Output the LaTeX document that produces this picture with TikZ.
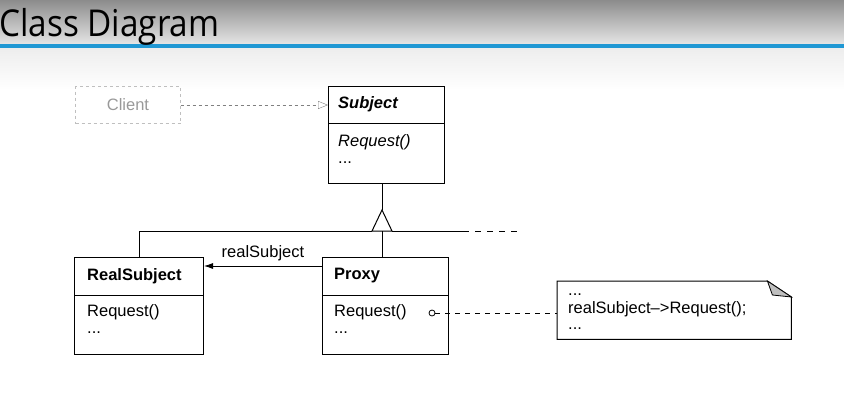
\documentclass[tikz,border=0pt]{standalone}
\usepackage{fontspec}
\setmainfont{Liberation Sans}
\newfontfamily\headfont[FakeStretch=0.9]{Open Sans}
\usetikzlibrary{arrows.meta}
\definecolor{bar}{RGB}{32,152,212}
\tikzset{
  cls/.style={draw,line width=1pt,minimum width=#1,minimum height=97pt,anchor=north west,inner sep=0pt},
  txt/.style={anchor=west,inner sep=0pt,font=\fontsize{16.5}{18}\selectfont}
}
\begin{document}
\begin{tikzpicture}[x=1pt,y=-1pt]
\useasboundingbox (0,0) rectangle (844,408);
% header
\shade[top color=black!45,bottom color=black!10] (0,0) rectangle (844,44);
\shade[top color=black!7,bottom color=white] (0,48) rectangle (844,90);
\fill[bar] (0,44) rectangle (844,48);
\node[anchor=base west,inner sep=0pt,font=\headfont\fontsize{37}{40}\selectfont] (T) at (-1,36) {Class Diagram};
% classes
\node[draw=black!25,dashed,minimum width=105pt,minimum height=37pt,inner sep=0pt,
  text=black!40,font=\fontsize{16.5}{18}\selectfont] (C) at (128,105) {Client};
\node[cls=116pt] (S) at (328,86) {};
\node[cls=129pt] (R) at (74,257) {};
\node[cls=126pt] (P) at (322,257) {};
\draw[line width=.8pt] (S.west |- 0,123) -- (S.east |- 0,123);
\draw[line width=.8pt] (R.west |- 0,295) -- (R.east |- 0,295);
\draw[line width=.8pt] (P.west |- 0,295) -- (P.east |- 0,295);
\node[txt,font=\fontsize{16.5}{18}\selectfont\bfseries\itshape] (Sn) at (338,104) {Subject};
\node[txt,font=\fontsize{16.5}{18}\selectfont\itshape] (Sr) at (338,142) {Request()};
\node[txt] (Sd) at (338,163) {...};
\node[txt,font=\fontsize{16.5}{18}\selectfont\bfseries] (Rn) at (87,276) {RealSubject};
\node[txt] (Rr) at (87,312) {Request()};
\node[txt] (Rd) at (87,333) {...};
\node[txt,font=\fontsize{16.5}{18}\selectfont\bfseries] (Pn) at (334,276) {Proxy};
\node[txt] (Pr) at (334,312) {Request()};
\node[txt] (Pd) at (334,333) {...};
% note
\node[minimum width=234pt,minimum height=58pt,anchor=north west,inner sep=0pt] (N) at (557,281) {};
\draw[line width=1pt] (N.south west) -- (N.north west) -- ([xshift=-24pt]N.north east)
  -- ([yshift=-16pt]N.north east) -- (N.south east) -- cycle;
\draw[fill=black!25,line width=.8pt] ([xshift=-24pt]N.north east) -- ([xshift=-19pt,yshift=-14pt]N.north east)
  -- ([yshift=-16pt]N.north east) -- cycle;
\node[txt] (N1) at (568,295) {...};
\node[txt] (N2) at (568,309) {realSubject–>Request();};
\node[txt] (N3) at (568,329) {...};
% connectors
\draw[dashed,black!50,-{Triangle[open,length=10pt,width=8pt]}] (C) -- (S.west |- C);
\coordinate (top) at (382,210);
\coordinate (bl) at (372,231);
\coordinate (br) at (392,231);
\draw[line width=1pt] (S.south -| top) -- (top);
\draw[line width=1pt,fill=white] (top) -- (bl) -- (br) -- cycle;
\draw[line width=.8pt] (R.north |- bl) -- (bl);
\draw[line width=.8pt] (br) -- (463,231) coordinate (e);
\draw[line width=.8pt,dashed,dash pattern=on 6pt off 6pt] (e) -- (520,231);
\draw[line width=.8pt] (R.north |- bl) -- (R.north);
\draw[line width=1pt] (top |- bl) -- (P.north -| top);
\draw[line width=.8pt,-{Latex[length=9pt,width=6pt]}] (P.west |- 0,266) -- (R.east |- 0,266)
  node[midway,above=1pt,font=\fontsize{16.5}{18}\selectfont] (lab) {realSubject};
\node[circle,draw,line width=.8pt,inner sep=0pt,minimum size=6pt] (o) at (432,313) {};
\draw[line width=.8pt,dash pattern=on 5pt off 5pt] (o) -- (N.west |- o);
\end{tikzpicture}
\end{document}
